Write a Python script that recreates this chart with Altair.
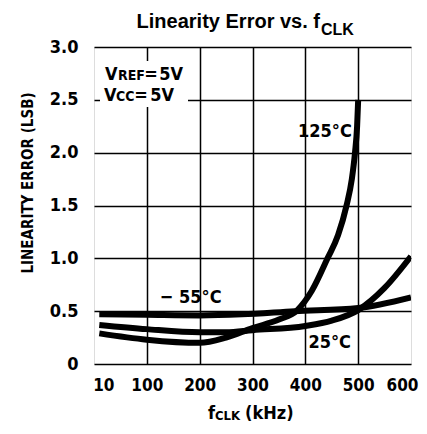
import altair as alt
import pandas as pd

# ---- data ----
freq_m55 = [10, 100, 200, 280, 380, 500, 600]
err_m55 = [0.47, 0.465, 0.46, 0.47, 0.50, 0.53, 0.63]

freq_25 = [10, 100, 200, 250, 300, 400, 450, 500, 550, 600]
err_25 = [0.37, 0.33, 0.30, 0.30, 0.32, 0.36, 0.41, 0.51, 0.72, 1.02]

freq_125 = [10, 100, 200, 250, 300, 350, 385, 412, 442, 462, 478, 488, 494, 498, 500]
err_125 = [0.29, 0.23, 0.20, 0.25, 0.34, 0.42, 0.51, 0.69, 1.0, 1.22, 1.5, 1.75, 2.0, 2.25, 2.5]

curve_labels = ["125°C", "\u2212 55°C", "25°C"]
label_freq = [437, 183, 446]
label_err = [2.2, 0.62, 0.2]

x_ticks = [10, 100, 200, 300, 400, 500, 600]
y_ticks = [0, 0.5, 1.0, 1.5, 2.0, 2.5, 3.0]

NARROW = "DejaVu Sans Condensed, sans-serif"
WIDE = "Liberation Sans, Arial, sans-serif"

rows = []
for name, fs, es in [("-55", freq_m55, err_m55), ("25", freq_25, err_25), ("125", freq_125, err_125)]:
    for f, e in zip(fs, es):
        rows.append({"series": name, "freq": f, "err": e})
df = pd.DataFrame(rows)
df_lab = pd.DataFrame({"label": curve_labels, "freq": label_freq, "err": label_err})

W, H = 317, 317

x_scale = alt.Scale(domain=[0, 600], nice=False, zero=False)
y_scale = alt.Scale(domain=[0, 3], nice=False)

x_axis = alt.Axis(
    values=x_ticks, title=None, ticks=False, domain=False,
    labelFont=NARROW, labelFontSize=17, labelFontWeight="bold", labelColor="black",
    labelPadding=13, labelFlush=False,
    labelOffset={"condition": [{"test": "datum.value == 10", "value": 4},
                               {"test": "datum.value == 600", "value": -9}],
                 "value": 0},
    grid=True, gridColor="black", gridWidth=1.5,
    gridOpacity={"condition": {"test": "datum.value == 10 || datum.value == 600", "value": 0}, "value": 1},
)
y_axis = alt.Axis(
    values=y_ticks, title=None, ticks=False, domain=False,
    labelFont=NARROW, labelFontSize=18, labelFontWeight="bold", labelColor="black",
    labelPadding=16, labelFlush=False,
    labelExpr="datum.value == 0 ? '0' : format(datum.value, '.1f')",
    grid=True, gridColor="black", gridWidth=1.5,
)

lines = alt.Chart(df).mark_line(color="black", strokeWidth=6, interpolate="monotone", clip=True).encode(
    x=alt.X("freq:Q", scale=x_scale, axis=x_axis),
    y=alt.Y("err:Q", scale=y_scale, axis=y_axis),
    detail="series:N",
    order="freq:Q",
)

labels = alt.Chart(df_lab).mark_text(
    font=NARROW, fontSize=18, fontWeight="bold", color="black", align="center", baseline="middle"
).encode(
    x=alt.X("freq:Q", scale=x_scale),
    y=alt.Y("err:Q", scale=y_scale),
    text="label:N",
)

one = alt.Data(values=[{}])


def txt(text, x, y, size, align="left", font=NARROW, angle=0, baseline="alphabetic"):
    props = dict(font=font, fontSize=size, fontWeight="bold", color="black", align=align, baseline=baseline)
    if angle:
        props["angle"] = angle
    return alt.Chart(one).mark_text(**props).encode(
        x=alt.value(x), y=alt.value(y), text=alt.value(text)
    )


box = alt.Chart(one).mark_rect(color="white").encode(
    x=alt.value(6), x2=alt.value(94), y=alt.value(14), y2=alt.value(60)
)

annots = [
    # title
    txt("Linearity Error vs. f", 226, -19, 20, align="right", font=WIDE),
    txt("CLK", 227, -12, 16, align="left", font=WIDE),
    # y title
    txt("LINEARITY ERROR (LSB)", -66, 136, 15, align="center", angle=270, baseline="middle"),
    # x title
    txt("f", 121, 372, 18, align="right"),
    txt("CLK", 121, 373, 13, align="left"),
    txt("(kHz)", 151, 372, 18, align="left"),
    # conditions
    txt("V", 11, 33, 18),
    txt("REF", 24, 33, 14),
    txt("=", 57, 33, 18, align="center"),
    txt("5V", 89, 33, 18, align="right"),
    txt("V", 10, 54, 18),
    txt("CC", 22, 54, 14),
    txt("=", 47, 54, 18, align="center"),
    txt("5V", 80, 54, 18, align="right"),
]

chart = alt.layer(box, lines, labels, *annots).properties(
    width=W, height=H,
    autosize=alt.AutoSizeParams(type="none"),
    padding={"left": 86, "top": 39, "right": 8, "bottom": 60},
).configure_view(stroke="black", strokeWidth=2.5).configure(background="white")

chart.save("out.html", embed_options={"renderer": "svg", "actions": False})
